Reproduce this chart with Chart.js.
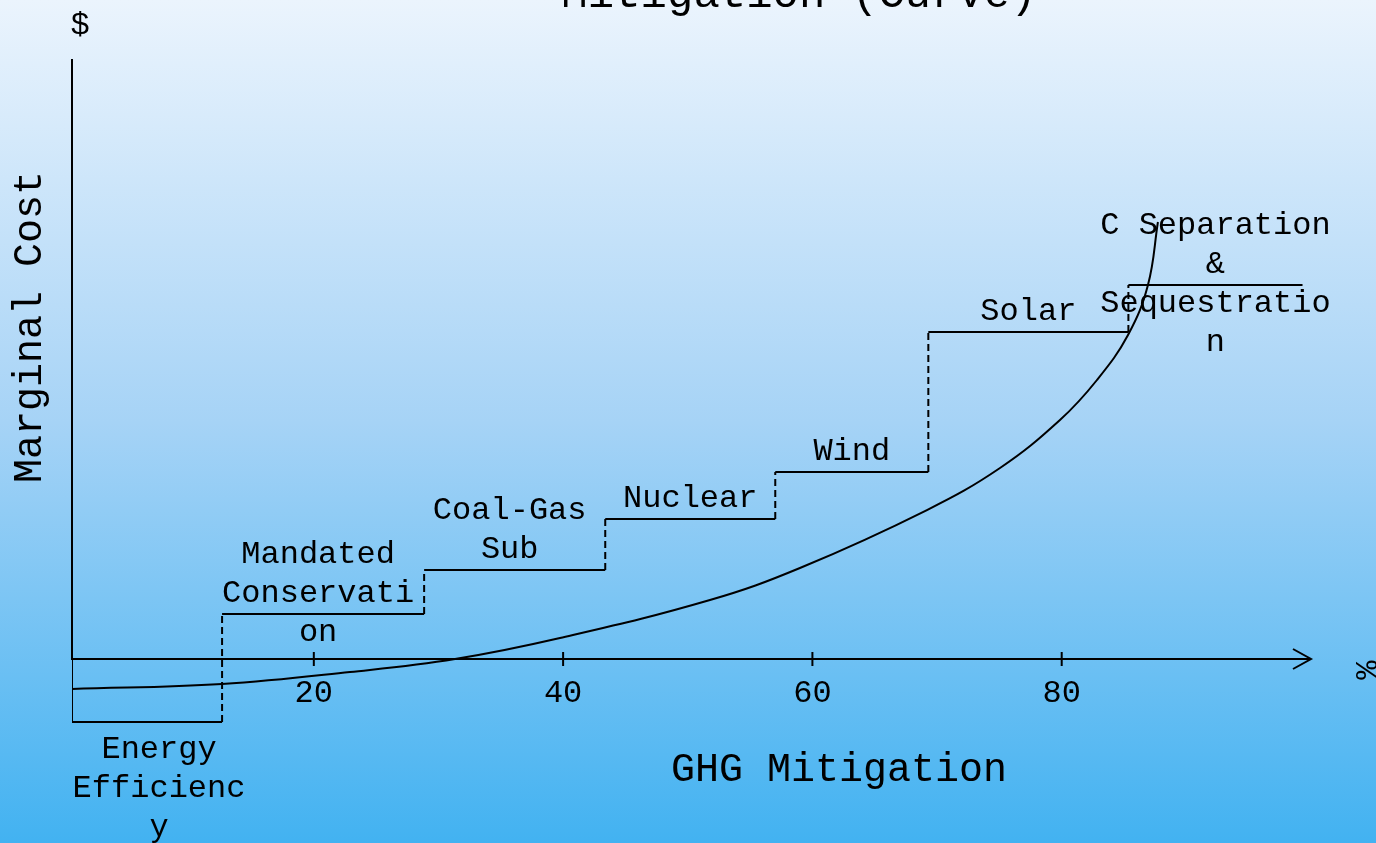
<!DOCTYPE html>
<html>
<head>
<meta charset="utf-8">
<script src="https://cdn.jsdelivr.net/npm/chart.js@4"></script>
<style>
  body { margin: 0; }
  #wrap { width: 1376px; height: 843px; }
</style>
</head>
<body>
<div id="wrap"><canvas id="myChart1"></canvas></div>
<script>
// step edges along GHG mitigation (%) and the cost level of each step
const stepEdges = [0.6, 12.64, 28.85, 43.38, 57.02, 69.3, 85.35, 99.32];
const stepCost = [-10.5, 7.5, 14.83, 23.33, 31.17, 54.5, 62.33];
const stepNames = [
  ["Energy", "Efficienc", "y"],
  ["Mandated", "Conservati", "on"],
  ["Coal-Gas", "Sub"],
  ["Nuclear"],
  ["Wind"],
  ["Solar"],
  ["C Separation", "&", "Sequestratio", "n"],
];
// marginal cost curve
const curveX = [0.6, 12.63, 22.9, 31.33, 39.75, 51.78, 59.0, 69.19, 75.05, 79.86, 82.83, 85.32, 86.92, 87.72];
const curveY = [-5.0, -4.17, -2.17, 0, 3.5, 9.83, 15.17, 24.83, 31.83, 39.83, 46.5, 54.0, 62.33, 72.83];
const xTicks = [20, 40, 60, 80];

const FONT = "'Liberation Mono', 'Courier New', monospace";

// build the step outline: vertical risers dashed, treads solid
const stepPoints = [{ x: stepEdges[0], y: 0 }];
stepCost.forEach((c, i) => {
  stepPoints.push({ x: stepEdges[i], y: c });
  stepPoints.push({ x: stepEdges[i + 1], y: c });
});
const curvePoints = curveX.map((x, i) => ({ x: x, y: curveY[i] }));

const decor = {
  id: "decor",
  beforeDraw(chart) {
    const { ctx, width, height } = chart;
    const g = ctx.createLinearGradient(0, 0, 0, height);
    g.addColorStop(0, "#ebf4fd");
    g.addColorStop(0.5, "#a6d3f6");
    g.addColorStop(1, "#42b2f1");
    ctx.save();
    ctx.fillStyle = g;
    ctx.fillRect(0, 0, width, height);
    ctx.restore();
  },
  afterDraw(chart) {
    const { ctx } = chart;
    const xs = chart.scales.x;
    const ys = chart.scales.y;
    const x0 = xs.getPixelForValue(stepEdges[0]);
    const y0 = ys.getPixelForValue(0);
    const xEnd = xs.getPixelForValue(100);
    const yTop = ys.getPixelForValue(100);

    ctx.save();
    ctx.strokeStyle = "#000";
    ctx.fillStyle = "#000";
    ctx.lineWidth = 2;

    // axes
    ctx.beginPath();
    ctx.moveTo(x0, yTop);
    ctx.lineTo(x0, y0);
    ctx.lineTo(xEnd, y0);
    ctx.moveTo(xEnd - 18, y0 - 10);
    ctx.lineTo(xEnd, y0);
    ctx.lineTo(xEnd - 18, y0 + 10);
    ctx.stroke();

    // ticks
    ctx.font = "32px " + FONT;
    ctx.textAlign = "center";
    ctx.textBaseline = "middle";
    xTicks.forEach((t) => {
      const px = xs.getPixelForValue(t);
      ctx.beginPath();
      ctx.moveTo(px, y0 - 7);
      ctx.lineTo(px, y0 + 7);
      ctx.stroke();
      ctx.fillText(String(t), px, y0 + 35);
    });

    // step labels
    stepNames.forEach((lines, i) => {
      const cx = (xs.getPixelForValue(stepEdges[i]) + xs.getPixelForValue(stepEdges[i + 1])) / 2;
      const sy = ys.getPixelForValue(stepCost[i]);
      let first;
      if (stepCost[i] < 0) first = sy + 28;
      else first = sy - Math.min(lines.length, 2) * 39 + 19;
      const shift = i === 0 ? 12 : (i < 3 ? -5 : 0);
      lines.forEach((l, k) => {
        ctx.fillText(l, cx + shift, first + k * 39);
      });
    });

    // axis titles
    ctx.font = "40px " + FONT;
    ctx.fillText("GHG Mitigation", 839, 770);
    ctx.save();
    ctx.translate(30, 327);
    ctx.rotate(-Math.PI / 2);
    ctx.fillText("Marginal Cost", 0, 0);
    ctx.restore();

    ctx.font = "32px " + FONT;
    ctx.fillText("$", 80, 26);
    ctx.save();
    ctx.translate(1364, 670);
    ctx.rotate(Math.PI / 2);
    ctx.fillText("%", 0, 0);
    ctx.restore();

    // title, mostly cut off by the top edge
    ctx.font = "44px " + FONT;
    ctx.textBaseline = "alphabetic";
    ctx.fillText("Mitigation (Curve)", 799, 7);
    ctx.restore();
  },
};

const ctx = document.getElementById("myChart1").getContext("2d");
const chart1 = new Chart(ctx, {
  type: "line",
  data: {
    datasets: [
      {
        data: stepPoints,
        borderColor: "#000",
        borderWidth: 2,
        pointRadius: 0,
        tension: 0,
        segment: {
          borderDash: (c) => (c.p0.parsed.x === c.p1.parsed.x ? [7, 4] : undefined),
        },
      },
      {
        data: curvePoints,
        borderColor: "#000",
        borderWidth: 2,
        pointRadius: 0,
        tension: 0.4,
      },
    ],
  },
  options: {
    responsive: true,
    maintainAspectRatio: false,
    animation: false,
    layout: { padding: { left: 72, right: 65, top: 59, bottom: 4 } },
    plugins: { legend: { display: false }, tooltip: { enabled: false } },
    scales: {
      x: { type: "linear", min: 0.6, max: 100, display: false },
      y: { type: "linear", min: -30, max: 100, display: false },
    },
  },
  plugins: [decor],
});
</script>
</body>
</html>
